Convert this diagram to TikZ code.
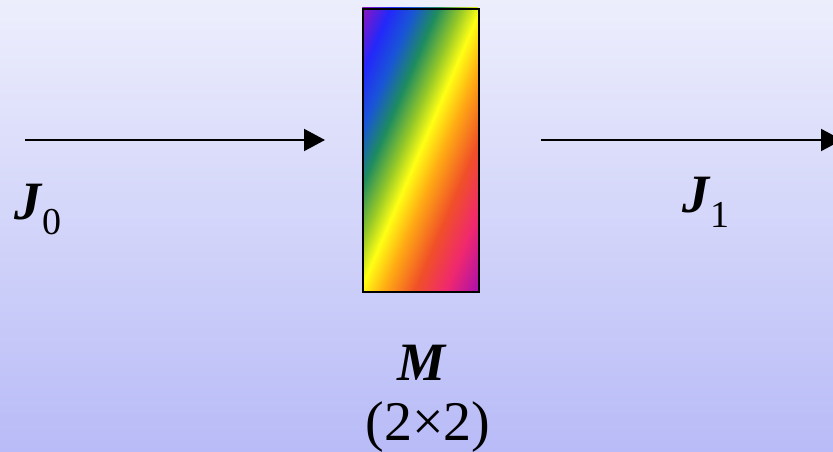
\documentclass[tikz,border=0pt]{standalone}
\usepackage{fontspec}
\setmainfont{Liberation Serif}
\usetikzlibrary{arrows.meta}
\definecolor{bgTop}{RGB}{237,238,252}
\definecolor{bgBot}{RGB}{184,187,247}
\definecolor{rP}{RGB}{145,20,190}
\definecolor{rB}{RGB}{35,40,250}
\definecolor{rBb}{RGB}{25,85,215}
\definecolor{rG}{RGB}{30,140,95}
\definecolor{rYG}{RGB}{150,200,40}
\definecolor{rY}{RGB}{255,255,20}
\definecolor{rO}{RGB}{255,170,20}
\definecolor{rR}{RGB}{240,80,40}
\definecolor{rK}{RGB}{240,40,110}
\definecolor{rPb}{RGB}{170,15,175}
\pgfdeclarehorizontalshading{rainbowM}{100bp}{color(0bp)=(rP); color(25bp)=(rP); color(31bp)=(rB); color(36bp)=(rBb); color(41bp)=(rG); color(46bp)=(rYG); color(50bp)=(rY); color(55bp)=(rO); color(61.5bp)=(rR); color(68bp)=(rK); color(75bp)=(rPb); color(100bp)=(rPb)}
\newcommand\BigFont{\fontsize{54}{60}\selectfont}
\newcommand\DimFont{\fontsize{56}{62}\selectfont}
\newcommand\SubFont{\fontsize{38}{42}\selectfont}
\newcommand\JSub[1]{{\BigFont\bfseries\itshape J}\hspace{1pt}\raisebox{-15pt}{\SubFont #1}}
\tikzset{
  flow/.style={line width=2pt, -{Triangle[length=21pt,width=22pt]}},
  lbl/.style={inner sep=0pt, anchor=base west},
  matbox/.style={draw=black, line width=2pt, minimum width=116pt, minimum height=283pt, inner sep=0pt, anchor=north west}
}
\begin{document}
\begin{tikzpicture}[x=1pt,y=-1pt]
\clip (0,0) rectangle (833,452);
\shade[top color=bgTop,bottom color=bgBot] (0,0) rectangle (833,452);
% rainbow fill
\begin{scope}
  \clip (362,8) rectangle (478,291);
  \begin{scope}[transform canvas={rotate around={-23.1:(420,150)}}]
    \shade[shading=rainbowM] (311,-30) rectangle (529,330);
  \end{scope}
\end{scope}
\node[matbox] (box) at (362,8) {};
% arrows
\coordinate (inS) at (25,140);
\coordinate (inE) at (325,140);
\coordinate (outS) at (541,140);
\coordinate (outE) at (842,140);
\draw[flow] (inS) -- (inE);
\draw[flow] (outS) -- (outE);
% labels
\node[lbl] (j0) at (14,219) {\JSub{0}};
\node[lbl] (j1) at (682,212) {\JSub{1}};
\node[inner sep=0pt, anchor=base] (mlab) at (422,380) {\BigFont\bfseries\itshape M};
\node[inner sep=0pt, anchor=base] (mdim) at (428,440) {\DimFont (2×2)};
\end{tikzpicture}
\end{document}
